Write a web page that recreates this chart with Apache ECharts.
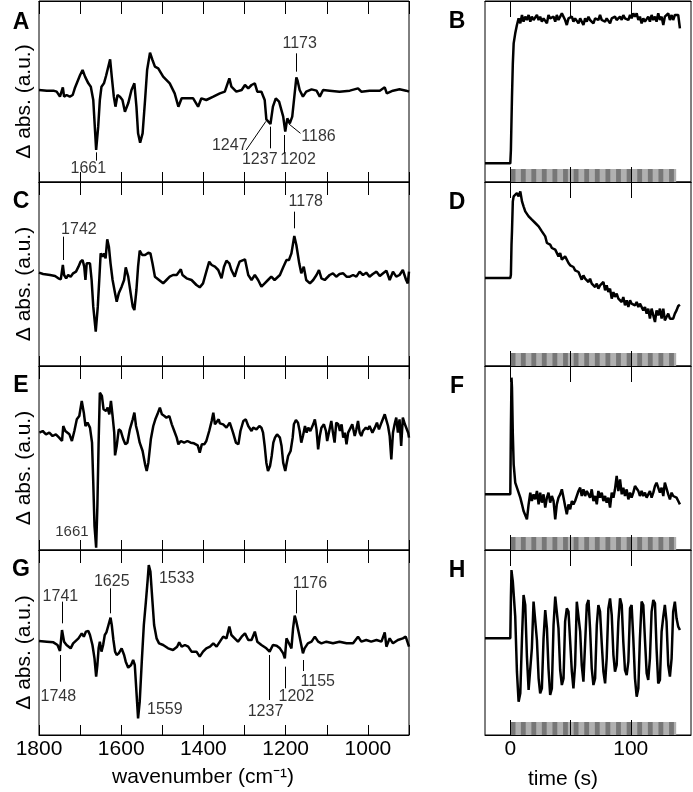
<!DOCTYPE html>
<html>
<head>
<meta charset="utf-8">
<title>FTIR difference spectra and kinetics</title>
<script src="https://cdn.jsdelivr.net/npm/echarts@6/dist/echarts.min.js"></script>
<style>
html, body { margin: 0; padding: 0; background: #fff; }
#chart { width: 693px; height: 792px; }
</style>
</head>
<body>
<div id="chart"></div>
<script>
// ---- left column: difference spectra (wavenumber cm-1 / delta abs, a.u.) ----
const wnA = [1800,1781,1765,1757,1749,1742,1739,1733,1725,1718,1713,1700,1694,1688,1680,1674,1668,1661,1656,1652,1648,1642,1637,1633,1627,1623,1618,1614,1609,1603,1597,1591,1583,1575,1568,1563,1559,1554,1548,1542,1537,1530,1524,1518,1510,1498,1482,1470,1461,1453,1441,1425,1413,1405,1393,1376,1360,1348,1337,1332,1320,1307,1299,1291,1283,1275,1269,1259,1251,1247,1237,1231,1224,1216,1206,1201,1196,1190,1184,1174,1171,1166,1158,1150,1137,1125,1117,1109,1093,1069,1044,1024,1016,996,971,959,954,939,923,907,900]
const absA = [0.02,0,0,-0.03,-0.18,0.1,-0.18,-0.13,-0.18,-0.13,0.07,0.47,0.62,0.42,0.22,0.12,-0.28,-1.78,-1.08,-0.28,0.12,0.22,0.44,0.42,0.94,0.42,-0.18,-0.48,-0.13,-0.18,-0.28,-0.63,-0.38,0.02,0.22,-0.48,-1.28,-1.56,-1.28,-0.28,0.62,1.14,0.92,0.72,0.67,0.42,0.22,-0.08,-0.48,-0.23,-0.23,-0.23,-0.48,-0.23,-0.28,-0.18,-0.08,-0.03,0.37,0.12,-0.03,0.02,0.17,0.07,0.17,0.22,-0.03,-0.03,-0.28,-0.86,-1.0,-0.48,-0.23,-0.33,-0.78,-1.23,-0.83,-0.98,-0.78,0.4,0.3,0.02,-0.18,-0.03,0.04,0,-0.18,0.02,0,-0.03,0,0.07,-0.03,0,0,0.1,-0.08,0,0.04,0,-0.03]

const wnC = [1800,1790,1773,1761,1753,1747,1742,1739,1734,1729,1723,1717,1710,1704,1699,1694,1690,1687,1684,1680,1676,1672,1668,1662,1657,1653,1650,1645,1642,1638,1634,1630,1626,1621,1615,1611,1606,1599,1593,1589,1583,1577,1572,1568,1563,1559,1555,1549,1542,1534,1529,1524,1518,1514,1508,1498,1490,1482,1474,1465,1455,1451,1441,1429,1417,1409,1401,1393,1386,1380,1372,1364,1356,1350,1344,1337,1332,1324,1318,1312,1299,1291,1283,1275,1267,1259,1251,1243,1235,1227,1214,1206,1198,1192,1186,1179,1174,1167,1162,1156,1150,1141,1133,1125,1119,1113,1105,1093,1085,1077,1069,1060,1052,1044,1036,1028,1020,1012,1004,996,988,979,971,963,955,947,939,931,923,915,907,903,900]
const absC = [0.02,-0.02,-0.05,-0.08,-0.15,-0.18,0.25,-0.05,-0.15,-0.05,-0.1,0,0.05,0.2,0.35,0.4,0.2,-0.2,0.3,0.35,0.3,-0.2,-1.0,-1.75,-1.0,-0.1,0.6,0.5,0.6,0.45,1.02,0.8,0.3,-0.2,-0.6,-0.85,-0.6,-0.4,-0.2,0.18,-0.1,-0.6,-1.0,-1.1,-0.5,0.2,0.68,0.55,0.55,0.62,0.6,0.3,-0.1,-0.1,-0.2,-0.3,-0.2,-0.1,-0.05,-0.05,0.12,-0.05,-0.15,-0.2,-0.35,-0.42,-0.3,0.05,0.35,0.25,0.2,0.1,-0.15,0.2,0.38,0.3,0.1,-0.1,0.15,0.35,0.42,-0.05,-0.2,-0.05,-0.2,-0.4,-0.3,-0.2,-0.1,-0.2,-0.05,0.18,0.4,0.4,0.6,1.12,0.85,0.3,0,0.2,-0.2,-0.3,-0.2,-0.05,0.1,-0.15,-0.2,-0.05,0,-0.1,-0.02,0,-0.1,-0.1,-0.05,-0.1,0.05,-0.05,0.02,-0.1,-0.02,0.05,-0.08,0,0.08,-0.2,0.05,-0.1,-0.05,0.1,-0.2,-0.3,0.05]

const wnE = [1799,1791,1783,1775,1767,1759,1751,1744,1741,1736,1726,1720,1714,1708,1702,1696,1691,1687,1682,1676,1671,1668,1665,1661,1658,1655,1652,1647,1643,1637,1633,1629,1625,1621,1617,1615,1611,1606,1601,1595,1590,1585,1579,1572,1568,1564,1560,1555,1548,1542,1538,1534,1528,1522,1517,1512,1506,1501,1495,1490,1483,1477,1471,1465,1461,1455,1447,1439,1431,1423,1414,1409,1404,1398,1393,1386,1380,1376,1372,1363,1360,1352,1344,1336,1328,1321,1315,1310,1303,1297,1291,1287,1283,1279,1271,1264,1259,1255,1251,1247,1243,1238,1234,1230,1226,1221,1214,1210,1206,1201,1198,1194,1188,1183,1180,1175,1170,1166,1162,1158,1153,1149,1145,1140,1133,1129,1125,1121,1117,1113,1107,1102,1099,1094,1089,1085,1081,1077,1072,1068,1064,1060,1056,1052,1048,1044,1038,1032,1028,1024,1020,1016,1012,1005,1000,996,989,983,978,973,967,963,959,955,951,947,943,939,935,931,927,923,919,915,910,906,902,900]
const absE = [0.02,0.07,-0.03,0.02,-0.08,-0.03,-0.13,-0.23,0.22,0.07,-0.03,-0.23,0.07,0.42,0.52,0.97,0.62,0.22,0.32,0.17,-0.28,-1.48,-2.78,-3.43,-2.18,-0.28,1.22,1.12,0.72,0.67,0.77,0.57,0.97,0.52,0.02,-0.66,-0.38,0.12,0.07,-0.18,-0.33,-0.28,0.12,0.42,0.62,0.22,0.02,-0.28,-0.53,-0.93,-1.13,-0.88,-0.18,0.22,0.42,0.57,0.77,0.57,0.52,0.47,0.52,0.27,0.07,-0.13,-0.33,-0.23,-0.28,-0.23,-0.28,-0.3,-0.36,-0.58,-0.33,-0.33,-0.23,0.07,0.37,0.62,0.27,0.42,0.3,0.27,0.17,0.32,0.02,-0.28,-0.33,0.07,0.37,0.42,0.22,0.27,0.07,0.17,0.12,0.22,0.17,0.02,-0.38,-0.88,-1.13,-0.98,-0.68,-0.28,-0.13,-0.03,-0.13,-0.38,-0.88,-1.13,-0.93,-0.68,-0.53,-0.13,0.27,0.4,0.32,0.07,-0.28,-0.08,0.22,0.02,0.17,0.07,0.27,0.42,0.12,-0.48,-0.08,0.17,0.27,0.07,-0.23,0.07,0.37,0.02,-0.28,0.32,0.27,0.07,0.27,-0.13,0.02,-0.33,0.02,0.12,0.27,-0.08,0.12,0.37,0.02,-0.08,0.07,0.17,0.12,0.22,0.02,0.17,0.32,0.12,0.32,0.37,0.57,0.62,0.22,-0.08,-0.78,0.02,0.27,0.47,0.02,0.42,-0.38,0.47,0.27,0.32,0.02,-0.13]

const wnG = [1800,1781,1765,1755,1749,1744,1739,1733,1723,1717,1704,1696,1691,1686,1680,1676,1670,1665,1661,1658,1655,1652,1648,1644,1640,1636,1631,1626,1623,1619,1615,1611,1606,1599,1593,1589,1583,1576,1571,1567,1563,1559,1555,1550,1545,1540,1536,1533,1529,1524,1520,1514,1508,1498,1486,1474,1464,1459,1453,1445,1437,1429,1417,1409,1401,1393,1384,1376,1368,1360,1352,1344,1337,1332,1324,1316,1307,1299,1291,1283,1275,1269,1259,1247,1239,1231,1222,1214,1206,1202,1198,1194,1190,1186,1182,1178,1174,1167,1162,1158,1154,1146,1137,1129,1121,1113,1101,1085,1069,1052,1036,1024,1016,1004,992,979,967,959,955,947,939,927,915,908,900]
const absG = [0.02,0,-0.02,-0.1,-0.28,0.35,0,-0.1,-0.2,-0.05,0.1,0.25,0.15,0.3,0.32,0.2,-0.1,-0.5,-1.05,-0.7,-0.2,0,-0.3,-0.1,0.2,0.28,0.5,0.72,0.5,0.05,-0.3,-0.4,-0.35,-0.2,-0.4,-0.6,-0.78,-0.7,-0.55,-0.7,-1.5,-2.3,-1.8,-0.6,0.5,1.2,1.8,2.3,2.1,1.2,0.5,0.1,-0.05,-0.1,-0.2,-0.25,-0.15,-0.02,-0.15,-0.1,-0.15,-0.3,-0.3,-0.45,-0.3,-0.2,-0.15,-0.05,-0.15,0,0.15,0.1,0.45,0.2,0.1,0,0.15,0.25,0.05,0.05,0.3,0,-0.1,-0.2,-0.3,-0.1,-0.12,-0.2,-0.35,-0.5,0.1,0.05,-0.1,-0.2,0.4,0.78,0.6,0.2,-0.1,-0.35,-0.2,-0.05,0,0.15,0,-0.05,0,-0.05,0,-0.05,-0.05,0.15,0,0.05,0,0.05,0,0.28,-0.15,0.1,-0.05,0.05,0.1,0.15,-0.15]

// peak labels: [text, label wn, label y, leader x1, y1, x2, y2]
const notesA = [
  ['1661', 1680, -2.33, 1661, -1.85, 1661, -2.1],
  ['1173', 1166, 1.42, 1174, 1.12, 1174, 0.57],
  ['1247', 1336, -1.65, 1296, -1.78, 1248, -0.92],
  ['1237', 1263, -2.08, 1237, -1.08, 1237, -1.73],
  ['1202', 1170, -2.06, 1203, -1.33, 1203, -1.88],
  ['1186', 1120, -1.38, 1192, -1.0, 1164, -1.28]
]
const notesC = [
  ['1742', 1703, 1.32, 1742, 1.1, 1742, 0.4],
  ['1178', 1151, 2.15, 1178, 1.85, 1178, 1.35]
]
const notesE = [
  ['1661', 1720, -2.95]
]
const notesG = [
  ['1741', 1748, 1.35, 1744, 1.2, 1744, 0.55],
  ['1625', 1623, 1.8, 1626, 1.6, 1626, 0.85],
  ['1533', 1465, 1.9],
  ['1176', 1141, 1.75, 1175, 1.55, 1175, 0.85],
  ['1748', 1753, -1.65, 1749, -0.4, 1749, -1.2],
  ['1559', 1494, -2.05],
  ['1237', 1249, -2.1, 1239, -0.4, 1239, -1.75],
  ['1202', 1174, -1.65, 1202, -0.75, 1202, -1.4],
  ['1155', 1122, -1.2, 1158, -0.55, 1158, -0.88]
]

// ---- right column: kinetics (time s / delta abs, a.u.) ----
const time = [-21,0,0.5,1,1.4,2.1,2.8,4.1,5.5,6.9,8.3,9.7,11,12.4,13.8,15.2,16.6,17.9,19.3,20.7,22.1,23.5,24.8,26.2,27.6,29,30.4,31.7,33.1,34.5,35.9,37.3,38.6,40,41.4,42.8,44.2,45.5,46.9,48.3,49.7,51.1,52.4,53.8,55.2,56.6,58,59.3,60.7,62.1,63.5,64.9,66.2,67.6,69,70.4,71.8,73.1,74.5,75.9,77.3,78.7,80,81.4,82.8,84.2,85.6,86.9,88.3,89.7,91.1,92.5,93.8,95.2,96.6,98,99.4,100.7,102.1,103.5,104.9,106.3,107.6,109,110.4,111.8,113.2,114.5,115.9,117.3,118.7,120.1,121.4,122.8,124.2,125.6,127,128.3,129.7,131.1,132.5,133.9,135.2,136.6,138,139.4,140.8]
const kinB = [0,0,0.4,1.3,2.0,3.0,3.6,
  3.9,4.15,4.35,4.2,4.45,4.25,4.4,4.3,4.45,4.25, 4.4,4.3,4.35,4.45,4.3,4.4,4.25,4.35,4.4,4.2,
  4.45,4.35,4.3,4.4,4.25,4.45,4.3,4.4,4.5,4.55, 4.3,4.15,4.35,4.3,4.4,4.25,4.35,4.3,4.2,4.35,
  4.3,4.15,4.35,4.25,4.4,4.3,4.35,4.2,4.35,4.4, 4.3,4.45,4.3,4.35,4.25,4.35,4.3,4.2,4.35,4.3,
  4.4,4.3,4.35,4.4,4.3,4.45,4.35,4.4,4.3,4.45, 4.35,4.5,4.4,4.5,4.3,4.4,4.2,4.35,4.25,4.3,
  4.4,4.25,4.45,4.3,4.4,4.25,4.5,4.3,4.4,4.15, 4.4,4.35,4.5,4.3,4.45,4.3,4.45,4.4,4.45,4.05]
const kinD = [0,0,0.1,1.0,1.4,2.3,2.45,
  2.45,2.55,2.45,2.6,2.3,2.15,2.0,2.05,1.85,1.9, 1.75,1.8,1.65,1.7,1.55,1.6,1.4,1.35,1.25,1.05,
  1.1,1.0,0.9,0.95,0.85,0.8,0.65,0.75,0.55,0.5, 0.65,0.55,0.45,0.38,0.35,0.33,0.23,0.28,0.18,0.23,
  -0.05,0.08,-0.02,0.03,-0.12,-0.02,-0.17,-0.12,-0.27,-0.17, -0.32,-0.22,-0.27,-0.12,-0.37,-0.22,-0.42,-0.32,-0.62,-0.42,
  -0.57,-0.47,-0.62,-0.57,-0.72,-0.57,-0.82,-0.67,-0.87,-0.67, -0.77,-0.72,-0.82,-0.72,-0.87,-0.77,-0.82,-0.97,-0.87,-1.07,
  -0.92,-1.22,-0.92,-0.87,-1.32,-0.97,-1.12,-0.92,-1.22,-0.92, -1.27,-1.17,-1.07,-1.22,-1.17,-1.22,-1.07,-0.97,-0.84,-0.8]
const kinF = [0,0,2.0,3.5,3.2,1.8,0.9,
  0.35,0.3,0.05,-0.1,-0.3,-0.5,-0.45,-0.75,-0.3,0.05, -0.2,0,-0.15,0.1,-0.3,0.05,-0.25,0,-0.4,-0.1,
  0.05,-0.25,-0.05,-0.2,-0.75,-0.3,-0.1,0,0.15,-0.1, -0.35,-0.6,-0.3,-0.45,-0.2,-0.3,-0.2,-0.05,0.1,0.2,
  -0.05,0.15,-0.05,0.1,0.05,-0.1,0.15,-0.2,-0.05,-0.3, 0.1,-0.1,0.05,-0.2,-0.05,-0.25,-0.1,-0.4,0.05,-0.1,
  0.15,0.55,0.1,0.45,0,0.2,-0.05,0.15,-0.15,0.05, -0.1,0.05,0.25,0.2,0.1,-0.05,0.1,-0.05,0.05,-0.1,
  -0.05,0.1,-0.1,0.05,0.25,0.35,0.3,0.05,0.2,-0.05, 0.35,0.4,0,-0.15,0.05,-0.05,-0.1,-0.1,-0.2,-0.3]
const kinH = [0,0,1.2,2.05,1.9,1.7,1.65,
  0.65,-1.0,-1.9,-1.65,0,1.3,1.0,-0.55,-1.55,-1.6, -0.3,1.1,1.05,-0.05,-1.2,-1.65,-1.5,0,0.85,0.3,
  -0.9,-1.7,-1.5,0.4,1.25,1.2,0.3,-0.95,-1.4,-1.2, 0.5,0.9,0.8,-0.1,-1.0,-1.5,-0.8,1.1,1.05,0.2,
  -0.8,-1.3,-1.3,1.0,1.15,0.3,-0.9,-1.4,-1.2,0.4, 1.0,0.8,-0.15,-1.0,-1.35,-0.6,0.9,1.2,0.7,-0.5,
  -1.0,-0.8,0.5,1.2,1.0,-0.1,-0.95,-1.1,-0.7,0.9, 1.0,0,-1.2,-1.75,-1.5,0,1.1,1.0,-0.05,-1.05,
  -1.25,-0.6,0.8,1.15,1.05,-0.3,-1.35,-1.25,0.2,0.65, 1.0,0.5,-0.8,-1.15,-0.6,0.8,1.1,0.6,0.35,0.25]

// light programme under each trace: [start, end, 0 = light bar / 1 = dark stripe]
const lampBar = [[0, 137.7, 0]]
const darkStripes = [[0.3,4.3,1],[8.8,12.8,1],[17.5,21.5,1],[26.2,30.2,1],[35,39,1],[43.8,47.8,1],[52.6,56.6,1],[61.4,65.4,1],[70.2,74.2,1],[79,83,1],[87.8,91.8,1],[96.6,100.6,1],[105.4,109.4,1],[114.2,118.2,1],[123,127,1],[131.8,135.8,1]]

const wnTicks = [1800, 1600, 1400, 1200, 1000]
const timeTicks = [0, 50, 100]
const timeLabels = [0, 100]

const FONT = '"Liberation Sans", Arial, Helvetica, sans-serif'

const leftPanels = [
  { wn: wnA, abs: absA, notes: notesA, yr: [-2.74, 2.69], top: 1, height: 181, letter: 'A' },
  { wn: wnC, abs: absC, notes: notesC, yr: [-2.78, 2.74], top: 182, height: 184, letter: 'C' },
  { wn: wnE, abs: absE, notes: notesE, yr: [-3.5, 2.02], top: 366, height: 184, letter: 'E', noteSize: 15 },
  { wn: wnG, abs: absG, notes: notesG, yr: [-2.8, 2.75], top: 550, height: 185, letter: 'G' }
]
const rightPanels = [
  { vals: kinB, yr: [-0.56, 4.87], top: 1, height: 181, letter: 'B' },
  { vals: kinD, yr: [-2.64, 2.88], top: 182, height: 184, letter: 'D' },
  { vals: kinF, yr: [-1.67, 3.85], top: 366, height: 184, letter: 'F' },
  { vals: kinH, yr: [-2.9, 2.65], top: 550, height: 185, letter: 'H' }
]

const grid = []
const xAxis = []
const yAxis = []
const series = []
const graphic = []

function frameAxes (gi, opts, isBottomRow) {
  const base = {
    gridIndex: gi,
    type: 'value',
    splitLine: { show: false },
    axisLine: { show: true, onZero: false, lineStyle: { color: '#000', width: 1 } }
  }
  xAxis.push(Object.assign({}, base, opts.common, {
    position: 'bottom',
    axisTick: Object.assign({ inside: true, length: opts.tickBottom, lineStyle: { color: '#000', width: 1 } }, opts.tickExtra),
    axisLabel: Object.assign({ show: isBottomRow, margin: 4, color: '#000', fontSize: 21, fontFamily: FONT }, opts.labelExtra)
  }))
  xAxis.push(Object.assign({}, base, opts.common, {
    position: 'top',
    axisTick: Object.assign({ inside: true, length: opts.tickTop, lineStyle: { color: '#000', width: 1 } }, opts.tickExtra),
    axisLabel: { show: false }
  }))
}

leftPanels.forEach((p, i) => {
  const gi = grid.length
  grid.push({ left: 39, width: 370, top: p.top, height: p.height, show: true, borderColor: '#000', borderWidth: 1 })
  frameAxes(gi, {
    common: { min: 900, max: 1800, interval: 100, inverse: true },
    tickTop: 13, tickBottom: 10,
    labelExtra: { formatter: v => (wnTicks.indexOf(v) >= 0 ? String(v) : '') }
  }, i === 3)
  yAxis.push({ gridIndex: gi, type: 'value', min: p.yr[0], max: p.yr[1], show: false })
  series.push({
    type: 'line', xAxisIndex: 2 * gi, yAxisIndex: gi,
    data: p.wn.map((w, j) => [w, p.abs[j]]),
    showSymbol: false, symbol: 'none',
    lineStyle: { color: '#000', width: 2.5 }, z: 4
  })
  series.push({
    type: 'lines', coordinateSystem: 'cartesian2d', xAxisIndex: 2 * gi, yAxisIndex: gi,
    data: p.notes.filter(n => n.length > 3).map(n => ({ coords: [[n[3], n[4]], [n[5], n[6]]] })),
    lineStyle: { color: '#000', width: 1, opacity: 1 }, silent: true, z: 5
  })
  series.push({
    type: 'scatter', xAxisIndex: 2 * gi, yAxisIndex: gi,
    data: p.notes.map(n => ({ name: n[0], value: [n[1], n[2]] })),
    symbolSize: 1, itemStyle: { color: 'rgba(0,0,0,0)' }, silent: true, z: 6,
    label: { show: true, position: 'inside', formatter: q => q.name, color: '#000', fontSize: p.noteSize || 16, fontFamily: FONT }
  })
  graphic.push({
    type: 'text', x: 24, y: p.top + p.height / 2 + 10, rotation: Math.PI / 2,
    style: { text: '\u0394 abs. (a.u.)', font: '21px ' + FONT, fill: '#000', align: 'center', verticalAlign: 'middle', textAlign: 'center', textVerticalAlign: 'middle' }
  })
  graphic.push({
    type: 'text', x: 21, y: p.top + (i === 0 ? 22 : 20),
    style: { text: p.letter, font: 'bold 23px ' + FONT, fill: '#000', align: 'center', verticalAlign: 'middle', textAlign: 'center', textVerticalAlign: 'middle' }
  })
})

rightPanels.forEach((p, i) => {
  const gi = grid.length
  grid.push({ left: 485, width: 206, top: p.top, height: p.height, show: true, borderColor: '#000', borderWidth: 1 })
  frameAxes(gi, {
    common: { min: -21, max: 150, z: 10 },
    tickTop: 16, tickBottom: 15,
    tickExtra: { customValues: timeTicks },
    labelExtra: { customValues: timeLabels }
  }, i === 3)
  yAxis.push({ gridIndex: gi, type: 'value', min: p.yr[0], max: p.yr[1], show: false })
  series.push({
    type: 'custom', xAxisIndex: 2 * gi, yAxisIndex: gi,
    data: lampBar.concat(darkStripes),
    encode: { x: [0, 1], y: 2 },
    silent: true, z: 3,
    renderItem: (params, api) => {
      const cs = params.coordSys
      const x0 = api.coord([api.value(0), 0])[0]
      const x1 = api.coord([api.value(1), 0])[0]
      return {
        type: 'rect',
        shape: { x: x0, y: cs.y + cs.height - 13, width: x1 - x0, height: 13 },
        style: { fill: api.value(2) ? '#777777' : '#b0b0b0' }
      }
    }
  })
  series.push({
    type: 'line', xAxisIndex: 2 * gi, yAxisIndex: gi,
    data: time.map((t, j) => [t, p.vals[j]]),
    showSymbol: false, symbol: 'none',
    lineStyle: { color: '#000', width: 2.5 }, z: 4
  })
  graphic.push({
    type: 'text', x: 457, y: p.top + 21,
    style: { text: p.letter, font: 'bold 23px ' + FONT, fill: '#000', align: 'center', verticalAlign: 'middle', textAlign: 'center', textVerticalAlign: 'middle' }
  })
})

graphic.push({
  type: 'text', x: 203, y: 777,
  style: { text: 'wavenumber (cm\u207B\u00B9)', font: '21px ' + FONT, fill: '#000', align: 'center', verticalAlign: 'middle', textAlign: 'center', textVerticalAlign: 'middle' }
})
graphic.push({
  type: 'text', x: 563, y: 779,
  style: { text: 'time (s)', font: '21px ' + FONT, fill: '#000', align: 'center', verticalAlign: 'middle', textAlign: 'center', textVerticalAlign: 'middle' }
})

const myChart = echarts.init(document.getElementById('chart'))
myChart.setOption({
  animation: false,
  backgroundColor: '#fff',
  grid: grid,
  xAxis: xAxis,
  yAxis: yAxis,
  series: series,
  graphic: graphic
})
</script>
</body>
</html>
